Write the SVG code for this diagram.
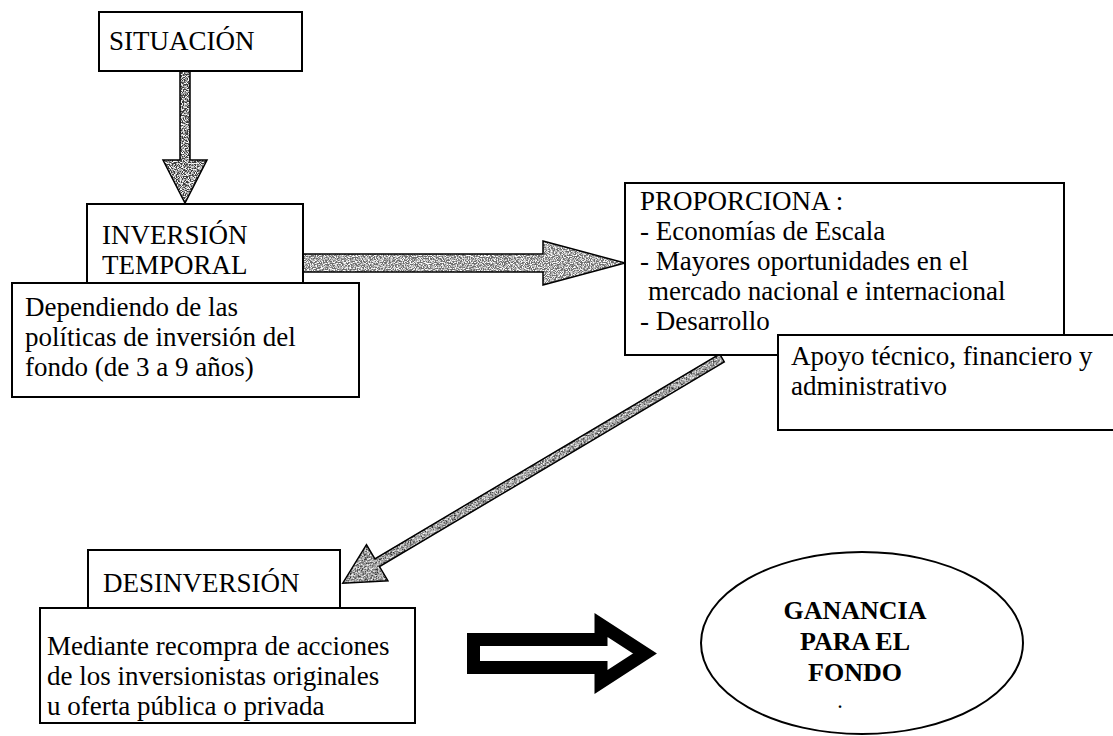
<svg xmlns="http://www.w3.org/2000/svg" width="1113" height="736" viewBox="0 0 1113 736">
<style>
  .box { fill: #ffffff; stroke: #000000; stroke-width: 2; }
  .t { font-family: "Liberation Serif", "Times New Roman", serif; font-size: 27px; fill: #000000; }
  .tb { font-family: "Liberation Serif", "Times New Roman", serif; font-size: 26px; font-weight: bold; fill: #000000; text-anchor: middle; }
  .outline { fill: none; stroke: #000000; stroke-width: 1.5; stroke-linejoin: miter; }
</style>
<defs>
  <filter id="grain" x="-5%" y="-5%" width="110%" height="110%">
    <feTurbulence type="fractalNoise" baseFrequency="0.85" numOctaves="2" seed="7" result="noise"/>
    <feColorMatrix in="noise" type="matrix" values="0 0 0 0 1  0 0 0 0 1  0 0 0 0 1  -4 0 0 0 2.3" result="spots"/>
    <feComposite in="spots" in2="SourceAlpha" operator="in" result="clipped"/>
    <feMerge><feMergeNode in="SourceGraphic"/><feMergeNode in="clipped"/></feMerge>
  </filter>
  <path id="arrV" d="M180,71 L190,71 L190,160 L207,160 L185,203 L163,160 L180,160 Z"/>
  <path id="arrH" d="M303,254 L543,254 L543,241 L625,263 L543,285 L543,272 L303,272 Z"/>
  <path id="arrD" d="M0,-4.5 L401,-4.5 L401,-21 L441,0 L401,21 L401,4.5 L0,4.5 Z"/>
</defs>

<g id="connectors">
  <use href="#arrV" fill="#3c3c3c" filter="url(#grain)"/>
  <use href="#arrV" class="outline"/>
  <use href="#arrH" fill="#6e6e6e" filter="url(#grain)"/>
  <use href="#arrH" class="outline"/>
  <g transform="translate(722,358) rotate(149.3)">
    <use href="#arrD" fill="#2e2e2e" filter="url(#grain)"/>
    <use href="#arrD" class="outline"/>
  </g>
  <path d="M473.5,639.5 L601,639.5 L601,625 L645,653.5 L601,682 L601,667.5 L473.5,667.5 Z" fill="#ffffff" stroke="#000000" stroke-width="13" stroke-linejoin="miter"/>
</g>

<g id="situacion">
  <rect class="box" x="99" y="12" width="203" height="59"/>
  <text class="t" x="109" y="50">SITUACIÓN</text>
</g>

<g id="inversion">
  <rect class="box" x="87" y="204" width="216" height="79"/>
  <text class="t" x="102" y="244">INVERSIÓN</text>
  <text class="t" x="102" y="274">TEMPORAL</text>
</g>

<g id="dependiendo">
  <rect class="box" x="12" y="283" width="347" height="114"/>
  <text class="t" x="25" y="316">Dependiendo de las</text>
  <text class="t" x="25" y="346">políticas de inversión del</text>
  <text class="t" x="25" y="376">fondo (de 3 a 9 años)</text>
</g>

<g id="proporciona">
  <rect class="box" x="625" y="183" width="439" height="172"/>
  <text class="t" x="640" y="210">PROPORCIONA :</text>
  <text class="t" x="640" y="240">- Economías de Escala</text>
  <text class="t" x="640" y="270">- Mayores oportunidades en el</text>
  <text class="t" x="648" y="300">mercado nacional e internacional</text>
  <text class="t" x="640" y="330">- Desarrollo</text>
</g>

<g id="apoyo">
  <rect class="box" x="778" y="335" width="345" height="95"/>
  <text class="t" x="791" y="365">Apoyo técnico, financiero y</text>
  <text class="t" x="791" y="395">administrativo</text>
</g>

<g id="desinversion">
  <rect class="box" x="88" y="550" width="252" height="58"/>
  <text class="t" x="103" y="592">DESINVERSIÓN</text>
</g>

<g id="mediante">
  <rect class="box" x="40" y="608" width="375" height="115"/>
  <text class="t" x="47" y="655">Mediante recompra de acciones</text>
  <text class="t" x="47" y="685">de los inversionistas originales</text>
  <text class="t" x="47" y="715">u oferta pública o privada</text>
</g>

<g id="ganancia">
  <ellipse cx="862" cy="643" rx="161" ry="91" fill="#ffffff" stroke="#000000" stroke-width="2"/>
  <text class="tb" x="855" y="619">GANANCIA</text>
  <text class="tb" x="855" y="650">PARA EL</text>
  <text class="tb" x="855" y="681">FONDO</text>
  <text class="tb" x="840" y="708" style="font-size:16px">.</text>
</g>
</svg>
